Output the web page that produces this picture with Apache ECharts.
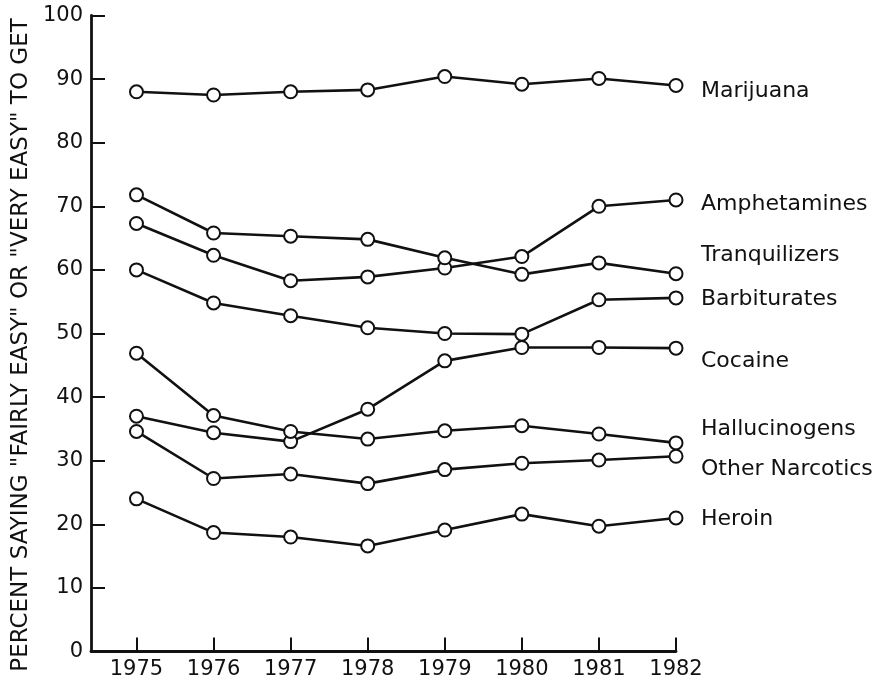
<!DOCTYPE html>
<html>
<head>
<meta charset="utf-8">
<script src="https://cdn.jsdelivr.net/npm/echarts@6/dist/echarts.min.js"></script>
<style>
  html, body { margin: 0; padding: 0; background: #ffffff; }
  #chart { width: 896px; height: 685px; }
</style>
</head>
<body>
<div id="chart"></div>
<script>
// Survey years
const years = [1975, 1976, 1977, 1978, 1979, 1980, 1981, 1982];

// Percent saying "fairly easy" or "very easy" to get
const marijuana      = [88.0, 87.5, 88.0, 88.3, 90.4, 89.2, 90.1, 89.0];
const amphetamines   = [67.3, 62.3, 58.3, 58.9, 60.3, 62.1, 70.0, 71.0];
const tranquilizers  = [71.8, 65.8, 65.3, 64.8, 61.9, 59.3, 61.1, 59.4];
const barbiturates   = [60.0, 54.8, 52.8, 50.9, 50.0, 49.9, 55.3, 55.6];
const cocaine        = [37.0, 34.4, 33.0, 38.1, 45.7, 47.8, 47.8, 47.7];
const hallucinogens  = [46.9, 37.1, 34.6, 33.4, 34.7, 35.5, 34.2, 32.8];
const otherNarcotics = [34.6, 27.2, 27.9, 26.4, 28.6, 29.6, 30.1, 30.7];
const heroin         = [24.0, 18.7, 18.0, 16.6, 19.1, 21.6, 19.7, 21.0];

const yTicks = [0, 10, 20, 30, 40, 50, 60, 70, 80, 90, 100];
const yTitle = 'PERCENT SAYING "FAIRLY EASY" OR "VERY EASY" TO GET';

const drugSeries = [
  { name: 'Marijuana',       values: marijuana },
  { name: 'Amphetamines',    values: amphetamines },
  { name: 'Tranquilizers',   values: tranquilizers },
  { name: 'Barbiturates',    values: barbiturates },
  { name: 'Cocaine',         values: cocaine },
  { name: 'Hallucinogens',   values: hallucinogens },
  { name: 'Other Narcotics', values: otherNarcotics },
  { name: 'Heroin',          values: heroin }
];

// vertical nudges of the end labels so they don't collide
const labelShift = {
  'Marijuana': 6, 'Amphetamines': 4, 'Tranquilizers': -18, 'Barbiturates': 1,
  'Cocaine': 13, 'Hallucinogens': -14, 'Other Narcotics': 13, 'Heroin': 1
};

const FONT = '"DejaVu Sans", "Liberation Sans", sans-serif';
const INK = '#111111';

const chart = echarts.init(document.getElementById('chart'), null, { renderer: 'canvas' });

chart.setOption({
  backgroundColor: '#ffffff',
  animation: false,
  grid: { left: 91, right: 220, top: 15.5, bottom: 33.5, containLabel: false },
  xAxis: {
    type: 'value',
    min: 1974.41,
    max: 1982,
    splitLine: { show: false },
    axisLine: { show: true, onZero: false, lineStyle: { color: INK, width: 2.8 } },
    axisTick: { show: true, inside: true, length: 14, customValues: years, lineStyle: { color: INK, width: 2 } },
    axisLabel: {
      show: true, customValues: years, margin: 8,
      color: INK, fontSize: 21, fontFamily: FONT,
      formatter: v => String(v)
    }
  },
  yAxis: {
    type: 'value',
    min: 0,
    max: 100,
    interval: 10,
    splitLine: { show: false },
    axisLine: { show: true, lineStyle: { color: INK, width: 2.8 } },
    axisTick: { show: true, inside: true, length: 14, lineStyle: { color: INK, width: 2 } },
    axisLabel: {
      color: INK, fontSize: 21, fontFamily: FONT, margin: 8,
      formatter: v => (yTicks.includes(v) ? String(v) : '')
    }
  },
  graphic: [{
    type: 'text',
    x: 21,
    y: 345,
    rotation: Math.PI / 2,
    style: {
      text: yTitle,
      fill: INK,
      font: '23px ' + FONT,
      textAlign: 'center',
      textVerticalAlign: 'middle'
    }
  }],
  series: drugSeries.map(s => ({
    name: s.name,
    type: 'line',
    data: years.map((y, i) => [y, s.values[i]]),
    symbol: 'circle',
    symbolSize: 13,
    showSymbol: true,
    lineStyle: { color: INK, width: 2.6 },
    itemStyle: { color: '#ffffff', borderColor: INK, borderWidth: 2 },
    emphasis: { disabled: true },
    endLabel: {
      show: true,
      formatter: () => s.name,
      distance: 25,
      offset: [0, labelShift[s.name]],
      color: INK,
      fontSize: 22,
      fontFamily: FONT
    }
  }))
});
</script>
</body>
</html>
